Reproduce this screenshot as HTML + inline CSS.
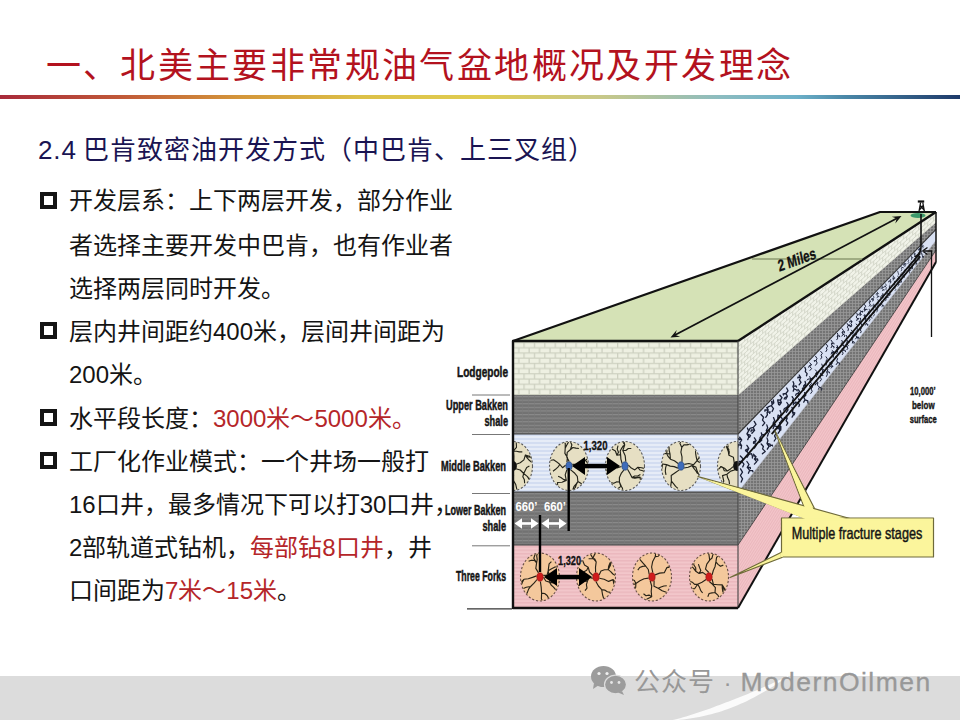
<!DOCTYPE html>
<html lang="zh-CN"><head><meta charset="utf-8">
<style>
html,body{margin:0;padding:0;}
body{width:960px;height:720px;overflow:hidden;position:relative;background:#fff;font-family:"Liberation Sans",sans-serif;}
.abs{position:absolute;}
#title{left:45.5px;top:39.5px;font-size:35px;line-height:52px;color:#b3121e;white-space:nowrap;letter-spacing:2.4px;}
#rule{left:0;top:95px;width:960px;height:4px;background:linear-gradient(90deg,#a82a3a 0%,#c05838 12.5%,#d4963a 25%,#dcc048 37.5%,#e0cc50 50%,#c8c888 62.5%,#8cbcc0 75%,#6cb0c8 83%,#4a88a8 88%,#1e3a6a 100%);}
#sub{left:38px;top:133px;font-size:26px;line-height:34px;color:#1a1452;white-space:nowrap;letter-spacing:0.85px;}
.ln{position:absolute;left:69px;font-size:24px;line-height:30px;color:#141414;white-space:nowrap;}
.bx{position:absolute;left:40px;width:8.5px;height:9px;border:4px solid #141414;}
.red{color:#b52629;}
#band{left:0;top:676px;width:960px;height:44px;background:#dcdcdc;}
#wm{left:634px;top:665px;font-size:24.5px;line-height:34px;color:#989898;white-space:nowrap;letter-spacing:2.2px}
svg text{font-family:"Liberation Sans",sans-serif;}
</style></head>
<body>
<div id="band" class="abs"></div>
<svg class="abs" style="left:0;top:0" width="960" height="720">
<polygon points="668.0,721.0 671.1,720.7 674.2,720.4 677.3,720.1 680.4,719.8 683.5,719.4 686.7,719.0 689.8,718.6 693.0,718.1 696.1,717.5 699.3,717.0 702.5,716.3 705.7,715.6 708.9,714.8 712.1,714.0 715.3,713.1 718.5,712.2 721.7,711.2 724.8,710.1 728.0,709.0 731.2,707.8 734.4,706.5 737.6,705.2 740.7,703.8 743.9,702.4 747.1,700.9 750.2,699.3 753.4,697.7 756.5,696.0 759.6,694.3 762.8,692.5 765.9,690.7 769.0,688.8 772.1,686.9 775.2,684.9 778.3,682.9 781.5,680.9 784.6,678.8 787.7,676.7 790.8,674.6 794.0,672.5 794.0,672.5 790.7,674.3 787.3,676.1 784.0,677.8 780.6,679.5 777.3,681.1 774.0,682.6 770.6,684.2 767.3,685.6 764.0,687.1 760.7,688.5 757.5,689.9 754.2,691.3 751.0,692.6 747.8,693.9 744.6,695.2 741.4,696.5 738.2,697.8 735.0,699.0 731.9,700.2 728.8,701.5 725.7,702.6 722.6,703.8 719.5,705.0 716.4,706.1 713.4,707.3 710.3,708.4 707.3,709.5 704.2,710.5 701.2,711.6 698.2,712.6 695.2,713.6 692.1,714.6 689.1,715.5 686.1,716.5 683.1,717.3 680.1,718.2 677.1,719.0 674.1,719.7 671.0,720.4 668.0,721.0" fill="#fbfbfb"/>
</svg>
<div id="title" class="abs">一、北美主要非常规油气盆地概况及开发理念</div>
<div id="rule" class="abs"></div>
<div id="sub" class="abs">2.4<span style="margin-left:-2px;letter-spacing:0.97px"> 巴肯致密油开发方式（中巴肯、上三叉组）</span></div>

<div class="bx" style="top:192px"></div>
<div class="ln" style="top:186px">开发层系：上下两层开发，部分作业</div>
<div class="ln" style="top:230.7px">者选择主要开发中巴肯，也有作业者</div>
<div class="ln" style="top:273.9px">选择两层同时开发。</div>
<div class="bx" style="top:322px"></div>
<div class="ln" style="top:317.1px">层内井间距约400米，层间井间距为</div>
<div class="ln" style="top:360.3px">200米。</div>
<div class="bx" style="top:408.5px"></div>
<div class="ln" style="top:403.5px">水平段长度：<span class="red">3000米～5000米。</span></div>
<div class="bx" style="top:451.5px"></div>
<div class="ln" style="top:446.7px">工厂化作业模式：一个井场一般打</div>
<div class="ln" style="top:489.9px">16口井，最多情况下可以打30口井，</div>
<div class="ln" style="top:533.1px">2部轨道式钻机，<span class="red">每部钻8口井</span>，井</div>
<div class="ln" style="top:576.3px">口间距为<span class="red">7米～15米</span>。</div>

<svg class="abs" style="left:0;top:0" width="960" height="720">
<defs>
<pattern id="brick" patternUnits="userSpaceOnUse" width="10.4" height="10.4" x="513" y="342">
 <rect width="10.4" height="10.4" fill="#eef0e2"/>
 <path d="M0 0.6H10.4M0 5.8H10.4M0.6 0V5.2M5.8 5.2V10.4" stroke="#cdd0c0" stroke-width="1.3" fill="none"/>
</pattern>
<pattern id="brickR" patternUnits="userSpaceOnUse" width="6" height="8" patternTransform="skewY(-41)">
 <rect width="6" height="8" fill="#f1f3e9"/>
 <path d="M0 0.5H6M0 4.5H6M0.5 0V4M3.5 4V8" stroke="#d6d9cc" stroke-width="1.2" fill="none"/>
</pattern>
<pattern id="grayF" patternUnits="userSpaceOnUse" width="6" height="3.6">
 <rect width="6" height="3.6" fill="#727272"/>
 <path d="M0 0.6H6" stroke="#8c8c8c" stroke-width="1.1"/>
 <path d="M0.5 0V3.6" stroke="#7a7a7a" stroke-width="0.6"/>
</pattern>
<pattern id="grayR" patternUnits="userSpaceOnUse" width="3" height="3">
 <rect width="3" height="3" fill="#747474"/>
 <path d="M0 0.5H3M0.5 0V3" stroke="#989898" stroke-width="0.8"/>
</pattern>
<pattern id="blueF" patternUnits="userSpaceOnUse" width="8" height="4">
 <rect width="8" height="4" fill="#d3ddf1"/>
 <path d="M0 1H8" stroke="#f4f6fc" stroke-width="1.2"/>
</pattern>
<pattern id="pinkF" patternUnits="userSpaceOnUse" width="8" height="3.5">
 <rect width="8" height="3.5" fill="#f2c6ca"/>
 <path d="M0 0.8H8" stroke="#e3aab2" stroke-width="0.8"/>
</pattern>
<pattern id="pinkR" patternUnits="userSpaceOnUse" width="4" height="4" patternTransform="skewY(-58)">
 <rect width="4" height="4" fill="#f2c4c8"/>
 <path d="M0 1H4" stroke="#e4aab2" stroke-width="0.8"/>
</pattern>
<clipPath id="frontClip"><rect x="513" y="341" width="225" height="267"/></clipPath>
</defs>
<polygon points="513.0,341.0 738.0,341.0 936.0,212.0 880.0,212.0" fill="#d5e2b6"/>
<polygon points="738.0,341.0 936.0,212.0 936.0,222.1 738.0,395.0" fill="url(#brickR)"/>
<polygon points="738.0,395.0 936.0,222.1 936.0,229.4 738.0,434.0" fill="url(#grayR)"/>
<polygon points="738.0,434.0 936.0,229.4 936.0,240.3 738.0,492.0" fill="#d9e1f3"/>
<polygon points="738.0,492.0 936.0,240.3 936.0,250.2 738.0,545.0" fill="url(#grayR)"/>
<polygon points="738.0,545.0 936.0,250.2 936.0,262.0 738.0,608.0" fill="url(#pinkR)"/>
<line x1="738.0" y1="395.0" x2="936.0" y2="222.1" stroke="#e8eadc" stroke-width="0.8"/>
<line x1="738.0" y1="434.0" x2="936.0" y2="229.4" stroke="#333" stroke-width="1.1"/>
<line x1="738.0" y1="492.0" x2="936.0" y2="240.3" stroke="#bfc6d8" stroke-width="0.6"/>
<line x1="738.0" y1="545.0" x2="936.0" y2="250.2" stroke="#3a3a3a" stroke-width="0.9"/>
<path d="M739.6 437.2 L741.7 440.0 L739.8 442.9 L741.6 445.7 L741.0 448.6 M741.6 445.7 l-3.2 -1.1 l-0.7 2.8 M741.7 440.0 l-3.5 -1.4 l0.9 1.1 M740.4 456.0 L743.0 458.7 L741.8 461.4 L743.9 464.2 L742.7 466.9 M741.8 461.4 l-2.6 -0.0 l-0.5 2.3 M740.5 468.9 L742.5 472.2 L740.4 475.5 L742.6 478.8 L741.2 482.1 M747.4 428.0 L748.6 430.9 L746.9 433.9 L748.9 436.8 L747.7 439.7 M746.9 433.9 l3.6 1.5 l-0.9 1.8 M746.9 445.4 L748.8 448.4 L747.1 451.4 L749.0 454.4 L747.0 457.4 M748.8 448.4 l-3.3 1.7 l0.9 1.5 M749.0 454.4 l2.5 -0.7 l0.9 2.7 M746.9 461.5 L749.0 464.5 L747.3 467.4 L749.7 470.3 L748.4 473.2 M747.3 467.4 l3.0 0.1 l0.1 1.0 M749.7 470.3 l2.9 0.4 l0.3 1.1 M754.2 421.4 L756.0 424.4 L753.3 427.4 L754.6 430.4 L751.9 433.3 M754.6 430.4 l-3.2 -0.5 l-0.4 1.6 M753.3 427.4 l-3.4 1.0 l-0.9 2.0 M754.4 437.9 L756.1 440.5 L754.7 443.0 L756.1 445.5 L754.4 448.1 M756.1 440.5 l-2.5 1.4 l-0.1 1.4 M753.4 454.1 L756.0 456.6 L754.4 459.1 L756.7 461.6 L754.4 464.1 M754.4 459.1 l3.1 -0.1 l0.3 1.5 M756.0 456.6 l-3.6 -1.1 l-0.0 2.5 M761.0 414.5 L763.6 417.3 L762.5 420.1 L764.8 422.8 L762.6 425.6 M761.3 432.8 L762.0 435.2 L760.0 437.6 L761.8 440.0 L759.6 442.3 M762.0 435.2 l2.5 -0.9 l-0.9 1.9 M761.8 440.0 l-2.4 -0.9 l0.7 1.8 M761.2 444.0 L763.4 446.5 L762.6 448.9 L765.2 451.4 L762.4 453.8 M766.7 407.5 L768.2 409.9 L767.1 412.4 L767.4 414.8 L765.7 417.3 M768.2 409.9 l-3.3 0.1 l-0.0 1.2 M767.1 412.4 l3.1 -0.5 l-0.5 1.5 M766.8 424.9 L767.7 427.7 L766.3 430.6 L768.4 433.4 L767.4 436.2 M766.3 430.6 l3.0 -0.3 l0.3 1.7 M767.0 437.9 L767.9 440.7 L767.0 443.5 L769.0 446.3 L767.3 449.2 M767.0 443.5 l3.1 0.6 l0.4 1.9 M769.0 446.3 l3.1 -1.3 l0.5 1.0 M773.3 399.9 L773.8 402.8 L771.3 405.7 L773.5 408.6 L772.1 411.5 M773.8 402.8 l-2.2 -1.3 l0.4 2.5 M771.3 405.7 l-3.3 1.1 l-0.4 1.2 M773.5 417.6 L774.7 420.4 L773.1 423.1 L774.0 425.9 L773.1 428.7 M774.0 425.9 l3.4 0.7 l0.4 2.0 M773.1 423.1 l2.3 1.4 l-0.6 1.0 M774.3 430.7 L776.1 433.3 L774.6 435.9 L775.9 438.5 L774.2 441.0 M779.9 395.3 L782.0 397.7 L780.4 400.1 L781.3 402.5 L779.5 405.0 M780.4 400.1 l-2.7 -0.3 l0.3 2.0 M781.3 402.5 l-3.1 -0.1 l0.4 2.3 M780.1 410.6 L781.2 413.5 L780.3 416.3 L782.6 419.2 L780.4 422.1 M780.3 416.3 l-2.2 1.3 l-0.4 2.3 M780.3 416.3 l-2.2 -1.3 l-0.4 2.3 M779.5 422.7 L780.2 425.3 L778.7 428.0 L779.9 430.7 L778.1 433.4 M778.7 428.0 l2.2 -1.4 l-0.1 1.6 M778.7 428.0 l2.2 0.6 l-0.2 1.6 M786.7 388.0 L788.0 390.8 L785.9 393.5 L787.4 396.3 L785.8 399.1 M785.9 393.5 l-2.8 0.5 l0.4 1.0 M787.4 396.3 l-2.6 1.4 l-0.6 1.3 M786.8 402.5 L788.4 404.9 L786.7 407.4 L788.0 409.8 L786.3 412.3 M786.7 407.4 l-2.3 1.2 l-0.7 1.6 M786.1 416.1 L787.2 418.3 L786.1 420.6 L787.8 422.9 L786.5 425.2 M787.2 418.3 l-2.7 -1.0 l-0.5 1.5 M793.1 381.6 L793.9 384.0 L792.9 386.4 L794.0 388.8 L793.2 391.2 M792.9 386.4 l3.0 -0.6 l0.6 1.3 M794.0 388.8 l2.8 1.2 l0.3 0.8 M792.1 396.7 L793.4 398.7 L792.5 400.7 L794.0 402.8 L793.3 404.8 M791.9 407.3 L792.9 409.7 L792.5 412.2 L793.5 414.7 L792.1 417.1 M792.5 412.2 l2.3 0.6 l-0.6 2.1 M799.2 375.0 L800.7 377.5 L799.4 379.9 L801.0 382.4 L799.1 384.8 M800.7 377.5 l-2.8 -0.3 l-0.0 0.9 M798.0 389.4 L799.6 391.3 L798.2 393.2 L798.8 395.1 L797.0 397.0 M798.2 393.2 l-2.1 0.9 l-0.4 1.3 M798.6 399.0 L800.0 400.9 L798.1 402.8 L799.5 404.7 L798.9 406.6 M798.1 402.8 l-2.4 -0.8 l-0.7 1.5 M804.9 367.3 L805.7 369.5 L805.3 371.6 L807.1 373.7 L806.5 375.8 M805.1 381.5 L805.7 383.7 L803.6 386.0 L804.4 388.2 L803.7 390.4 M804.4 388.2 l-1.9 0.0 l-0.0 1.0 M803.6 386.0 l2.1 -0.5 l-0.0 1.2 M804.6 392.6 L805.9 395.0 L803.8 397.4 L805.0 399.8 L803.7 402.1 M805.0 399.8 l2.8 1.0 l0.1 2.1" stroke="#1a2036" stroke-width="1.3" fill="none" stroke-linecap="round" stroke-linejoin="round"/>
<path d="M809.8 362.8 L811.3 364.7 L809.9 366.7 L811.6 368.6 L809.9 370.5 M811.3 364.7 l-2.0 0.9 l-0.6 1.7 M809.7 376.6 L810.7 378.9 L809.8 381.3 L811.7 383.6 L809.3 385.9 M810.7 378.9 l2.1 -1.1 l-0.6 1.6 M810.7 378.9 l-2.8 0.2 l-0.7 1.0 M810.8 384.8 L812.3 386.9 L811.2 389.1 L812.2 391.3 L810.8 393.4 M812.3 386.9 l-2.7 -0.9 l0.6 0.8 M815.5 356.2 L817.0 358.5 L816.0 360.7 L817.2 363.0 L815.5 365.3 M816.0 360.7 l-1.9 -0.1 l0.3 0.8 M815.4 369.9 L816.9 371.6 L815.9 373.4 L816.9 375.2 L816.4 376.9 M815.9 373.4 l2.2 -0.8 l-0.5 2.0 M816.2 380.7 L817.9 382.9 L817.2 385.0 L819.4 387.1 L818.4 389.3 M819.4 387.1 l2.7 1.3 l-0.7 1.9 M817.9 382.9 l-2.0 0.4 l-0.6 1.7 M820.7 351.4 L822.4 353.3 L821.0 355.2 L821.9 357.1 L820.7 359.0 M821.8 364.1 L822.5 366.3 L821.5 368.6 L822.7 370.8 L822.0 373.1 M821.5 368.6 l2.0 0.8 l-0.3 1.0 M820.3 373.2 L821.1 375.2 L820.1 377.2 L821.5 379.3 L820.1 381.3 M821.1 375.2 l1.9 -0.2 l-0.2 0.7 M826.5 344.4 L827.7 346.2 L826.4 348.0 L827.0 349.8 L825.9 351.6 M826.0 356.8 L827.4 358.9 L826.0 361.0 L826.6 363.1 L826.1 365.2 M826.3 367.6 L827.9 369.8 L826.8 372.0 L827.4 374.2 L826.5 376.4 M826.8 372.0 l2.4 -0.1 l0.4 1.2 M831.1 340.2 L832.4 342.1 L831.5 343.9 L832.2 345.8 L831.1 347.7 M831.5 343.9 l2.3 -1.0 l0.2 1.1 M832.2 345.8 l2.0 1.0 l-0.4 1.1 M832.1 350.5 L834.1 352.2 L833.0 353.9 L833.6 355.6 L833.2 357.4 M834.1 352.2 l-2.4 0.5 l-0.5 1.4 M834.1 352.2 l-2.4 -0.2 l0.6 1.2 M831.3 361.4 L832.0 363.1 L831.4 364.8 L832.7 366.4 L831.2 368.1 M832.0 363.1 l-2.3 -0.5 l0.2 0.8 M832.7 366.4 l-2.5 -0.3 l-0.5 1.1 M837.5 333.4 L837.9 334.9 L837.3 336.5 L837.8 338.1 L836.8 339.7 M837.3 336.5 l2.0 -1.0 l0.4 1.2 M837.1 345.5 L838.0 347.5 L836.7 349.5 L837.5 351.5 L836.7 353.5 M837.5 351.5 l-2.3 -0.5 l0.4 1.8 M838.0 347.5 l-1.6 -0.2 l0.4 0.7 M835.9 356.7 L837.6 358.7 L836.8 360.7 L837.5 362.7 L836.2 364.6 M837.5 362.7 l2.0 0.2 l0.2 1.5 M842.1 328.7 L843.4 330.6 L842.2 332.4 L843.1 334.3 L841.9 336.1 M842.2 332.4 l2.3 -0.9 l-0.2 1.5 M843.1 334.3 l1.9 1.1 l-0.5 1.1 M841.8 340.4 L842.5 342.0 L841.3 343.6 L841.9 345.2 L840.5 346.9 M841.9 345.2 l1.8 -0.3 l-0.1 1.1 M842.3 348.6 L843.2 350.1 L842.2 351.6 L843.2 353.1 L842.3 354.6 M843.2 350.1 l1.9 0.1 l0.3 1.5 M847.2 323.5 L848.3 325.3 L847.4 327.1 L848.5 328.9 L848.0 330.7 M848.3 325.3 l1.8 -0.3 l-0.0 1.7 M848.3 325.3 l1.7 0.2 l0.5 0.9 M846.3 335.4 L847.2 337.2 L846.1 339.0 L847.3 340.9 L846.8 342.7 M847.3 340.9 l1.7 0.9 l-0.3 0.9 M846.8 343.9 L848.2 345.3 L847.0 346.8 L847.9 348.2 L847.0 349.6 M847.0 346.8 l-2.2 -0.7 l-0.2 1.6 M850.8 320.0 L851.9 321.7 L850.9 323.4 L851.8 325.1 L851.1 326.8 M851.9 321.7 l-1.8 -0.7 l-0.4 1.0 M851.4 330.1 L852.4 331.6 L852.0 333.2 L853.3 334.7 L852.4 336.2 M852.0 333.2 l1.6 -1.0 l0.5 1.3 M852.0 333.2 l-1.7 -0.6 l0.2 0.8 M851.6 337.3 L852.7 338.7 L851.8 340.2 L852.8 341.6 L852.4 343.1 M852.8 341.6 l1.5 0.4 l-0.3 1.4 M856.8 313.2 L857.5 315.1 L856.2 316.9 L857.4 318.7 L856.8 320.6 M857.4 318.7 l1.4 -0.3 l-0.5 0.9 M856.3 324.0 L857.6 325.7 L856.8 327.4 L857.4 329.1 L856.9 330.7 M855.9 332.0 L856.7 333.7 L855.8 335.5 L856.8 337.2 L855.6 338.9 M856.8 337.2 l1.7 -0.1 l0.4 1.1 M856.8 337.2 l1.4 0.4 l-0.3 1.2 M860.0 310.4 L860.9 311.7 L859.9 313.0 L861.0 314.3 L860.1 315.6 M860.9 311.7 l1.6 -0.7 l-0.1 1.2 M861.0 314.3 l-2.0 -0.5 l-0.2 0.9 M860.4 318.2 L860.7 319.9 L859.3 321.6 L860.2 323.3 L859.2 325.0 M860.2 323.3 l1.4 0.5 l0.0 1.2 M859.3 321.6 l1.5 0.2 l-0.1 0.6 M860.1 327.3 L861.2 328.6 L860.3 330.0 L861.2 331.4 L860.7 332.7 M864.6 304.6 L865.7 306.3 L864.4 308.0 L865.4 309.7 L864.2 311.4 M865.4 309.7 l-1.3 -0.8 l0.2 1.1 M865.4 309.7 l1.5 -0.5 l0.2 0.5 M864.8 314.6 L865.3 315.9 L864.9 317.2 L865.8 318.5 L865.2 319.8 M865.8 318.5 l-1.7 -0.1 l-0.3 0.5 M865.3 315.9 l-1.5 -0.2 l0.5 0.6 M865.4 320.1 L866.3 321.4 L865.5 322.6 L866.5 323.9 L865.2 325.1 M866.5 323.9 l1.5 0.6 l-0.3 0.9" stroke="#1a2036" stroke-width="1.0" fill="none" stroke-linecap="round" stroke-linejoin="round"/>
<path d="M869.5 299.8 L870.4 301.4 L869.4 303.0 L870.1 304.6 L869.1 306.2 M870.4 301.4 l-1.5 0.5 l0.3 0.5 M870.1 304.6 l1.2 0.8 l-0.4 1.1 M869.2 309.1 L869.6 310.4 L868.4 311.7 L869.2 313.0 L867.8 314.4 M869.2 313.0 l-1.4 0.2 l-0.4 1.1 M869.2 313.0 l-1.2 -0.3 l-0.0 0.5 M869.8 315.1 L870.4 316.6 L869.2 318.2 L870.1 319.7 L869.2 321.2 M870.4 316.6 l1.6 0.9 l-0.0 0.7 M870.4 316.6 l-1.6 0.2 l-0.2 0.6 M873.1 295.8 L874.1 297.1 L873.1 298.5 L873.5 299.8 L872.8 301.2 M873.5 299.8 l-1.4 -0.7 l0.3 1.1 M873.1 298.5 l-1.6 0.2 l-0.1 0.9 M873.8 304.1 L874.3 305.5 L873.2 306.9 L873.7 308.3 L873.1 309.7 M874.3 305.5 l-1.4 -0.7 l0.1 1.3 M874.3 305.5 l1.7 0.9 l-0.3 1.1 M874.0 310.4 L874.5 311.8 L873.7 313.2 L874.4 314.6 L873.5 316.1 M874.5 311.8 l-1.7 0.6 l0.3 0.8 M877.3 292.1 L878.1 293.6 L876.8 295.0 L877.9 296.4 L877.1 297.8 M877.9 296.4 l1.1 -0.3 l-0.2 0.7 M878.1 293.6 l-1.7 -0.1 l-0.2 0.9 M877.8 299.6 L878.6 301.0 L877.9 302.5 L878.3 303.9 L877.5 305.4 M877.6 306.6 L877.9 308.0 L877.3 309.3 L877.6 310.7 L876.7 312.0 M877.3 309.3 l-1.4 -0.0 l0.2 0.8 M882.1 286.3 L883.0 287.5 L882.3 288.6 L883.2 289.7 L882.4 290.8 M883.2 289.7 l1.3 0.1 l-0.4 0.5 M883.0 287.5 l-1.7 0.3 l-0.3 1.0 M882.8 293.4 L883.1 294.6 L882.1 295.8 L883.2 297.0 L882.8 298.2 M882.1 295.8 l-1.5 0.8 l0.1 1.1 M883.1 294.6 l-1.1 0.3 l-0.2 0.5 M881.4 301.2 L881.9 302.6 L881.6 304.0 L882.4 305.4 L882.0 306.8 M881.6 304.0 l-1.5 0.6 l0.2 1.0 M882.4 305.4 l1.3 -0.1 l0.0 1.0 M885.5 283.8 L886.3 285.1 L885.5 286.5 L886.4 287.8 L885.8 289.1 M885.5 286.5 l-1.2 -0.3 l-0.3 1.1 M886.5 289.8 L887.4 291.0 L886.6 292.2 L887.3 293.3 L886.9 294.5 M887.3 293.3 l1.5 0.2 l-0.0 0.8 M886.1 296.6 L886.8 297.7 L885.6 298.8 L886.3 299.9 L885.3 300.9 M886.8 297.7 l1.6 -0.8 l-0.3 0.6 M890.0 278.9 L890.9 279.9 L889.8 281.0 L890.5 282.1 L890.2 283.2 M889.8 281.0 l1.1 0.1 l-0.0 1.0 M889.8 281.0 l-1.1 0.1 l-0.1 0.8 M889.8 285.1 L890.0 286.0 L889.2 287.0 L889.9 288.0 L888.8 289.0 M889.2 287.0 l1.0 0.1 l-0.1 1.0 M889.8 291.4 L890.5 292.5 L889.8 293.7 L890.3 294.8 L889.2 295.9 M889.8 293.7 l-1.0 0.7 l0.2 0.7 M893.1 275.7 L893.4 276.8 L893.1 277.9 L893.8 278.9 L892.8 280.0 M893.4 276.8 l1.4 0.7 l-0.2 1.1 M893.8 278.9 l-1.1 -0.4 l0.3 0.4 M894.1 281.0 L894.8 282.0 L894.1 283.0 L895.0 284.0 L894.0 285.0 M894.6 286.2 L895.2 287.3 L894.9 288.4 L895.8 289.5 L895.1 290.5 M897.4 271.0 L898.2 272.0 L897.9 273.0 L898.9 274.1 L898.2 275.1 M897.9 276.3 L898.5 277.5 L897.7 278.6 L898.6 279.8 L897.5 280.9 M898.5 277.5 l1.2 0.5 l-0.3 0.9 M897.8 281.8 L898.2 282.9 L898.0 284.0 L898.7 285.1 L897.9 286.2 M898.2 282.9 l1.2 -0.6 l0.2 0.4 M898.0 284.0 l1.4 -0.1 l-0.3 0.6 M901.2 266.6 L902.0 267.7 L901.3 268.8 L901.9 269.8 L901.1 270.9 M902.0 267.7 l1.2 -0.3 l0.1 0.5 M902.0 272.7 L902.4 273.6 L902.0 274.5 L902.5 275.3 L902.0 276.2 M902.0 274.5 l1.3 -0.6 l-0.3 0.6 M902.0 274.5 l-1.2 -0.6 l0.1 0.7 M901.0 278.8 L901.4 279.7 L901.0 280.6 L901.5 281.5 L901.0 282.4 M901.5 281.5 l-0.9 0.2 l0.2 0.6 M901.4 279.7 l-0.9 -0.1 l0.2 0.5 M904.3 263.2 L905.0 264.0 L904.7 264.9 L905.4 265.7 L904.8 266.6 M904.7 264.9 l-1.3 -0.4 l0.3 0.9 M905.0 264.0 l1.0 -0.6 l-0.1 0.9 M905.0 269.3 L905.4 270.2 L904.5 271.0 L905.0 271.9 L904.1 272.8 M905.4 270.2 l-1.2 0.4 l-0.1 0.7 M904.2 274.3 L904.4 275.1 L903.7 275.9 L904.4 276.8 L904.2 277.6 M903.7 275.9 l0.8 -0.4 l0.0 0.5 M908.1 259.7 L908.6 260.7 L908.2 261.6 L908.8 262.5 L907.9 263.5 M909.1 264.1 L909.6 265.1 L909.1 266.1 L909.7 267.1 L909.1 268.2 M909.7 267.1 l-1.1 -0.3 l0.0 0.6 M908.8 268.8 L909.5 269.9 L909.0 270.9 L909.7 271.9 L909.5 273.0 M909.5 269.9 l0.8 0.1 l-0.1 0.6 M911.2 256.0 L912.0 257.0 L911.5 258.0 L912.0 259.0 L911.2 260.0 M911.5 258.0 l1.1 -0.5 l0.1 0.4 M911.2 261.8 L911.7 262.7 L911.1 263.6 L911.2 264.5 L910.5 265.4 M911.7 262.7 l-1.1 0.2 l-0.2 0.6 M912.5 265.1 L912.8 266.0 L912.1 267.0 L912.7 268.0 L912.0 269.0 M912.7 268.0 l-1.2 0.5 l0.3 0.3 M912.1 267.0 l-1.0 -0.0 l-0.1 0.5 M914.5 252.9 L915.1 253.9 L914.7 254.9 L915.0 256.0 L914.2 257.0 M915.0 256.0 l0.9 0.3 l-0.3 0.4 M915.1 253.9 l-1.0 -0.1 l0.2 0.8 M914.7 258.3 L915.5 259.2 L914.6 260.0 L915.1 260.9 L914.5 261.8 M914.6 260.0 l1.0 0.0 l-0.1 0.4 M915.8 261.2 L916.4 262.1 L915.8 263.0 L916.6 263.9 L915.8 264.9 M915.8 263.0 l1.0 0.4 l0.2 0.3 M919.1 247.9 L920.0 248.7 L919.6 249.4 L920.2 250.2 L919.9 251.0 M920.0 248.7 l-1.1 0.2 l-0.1 0.9 M919.6 249.4 l-0.9 0.2 l0.3 0.8 M918.5 253.0 L919.0 253.9 L918.4 254.8 L918.8 255.7 L918.3 256.6 M918.8 255.7 l-0.9 0.6 l-0.1 0.9 M918.8 255.7 l0.8 0.5 l-0.0 0.7 M919.0 256.5 L919.4 257.5 L918.9 258.6 L919.5 259.6 L918.9 260.7 M918.9 258.6 l-1.1 0.5 l-0.2 0.6 M922.5 244.8 L922.9 245.6 L922.4 246.3 L923.1 247.1 L922.9 247.9 M922.4 246.3 l1.0 -0.4 l0.2 0.3 M921.3 250.7 L921.4 251.7 L921.0 252.6 L921.5 253.5 L921.3 254.5 M921.4 251.7 l-0.8 0.1 l0.2 0.7 M921.9 253.5 L922.7 254.4 L922.3 255.4 L922.6 256.3 L922.4 257.3 M922.6 256.3 l0.9 0.1 l-0.3 0.6 M922.6 256.3 l0.8 0.4 l-0.0 0.4" stroke="#1a2036" stroke-width="0.75" fill="none" stroke-linecap="round" stroke-linejoin="round"/>
<line x1="738.0" y1="465.9" x2="920.2" y2="253.1" stroke="#111" stroke-width="1.8"/>
<line x1="771.7" y1="434.2" x2="920.2" y2="256.3" stroke="#111" stroke-width="1.8"/>
<rect x="513" y="341" width="225" height="54" fill="url(#brick)"/>
<rect x="513" y="395" width="225" height="39" fill="url(#grayF)"/>
<rect x="513" y="434" width="225" height="58" fill="url(#blueF)"/>
<rect x="513" y="492" width="225" height="53" fill="url(#grayF)"/>
<rect x="513" y="545" width="225" height="63" fill="url(#pinkF)"/>
<line x1="513" y1="434" x2="738" y2="434" stroke="#3c3c3c" stroke-width="1"/>
<line x1="513" y1="492" x2="738" y2="492" stroke="#3c3c3c" stroke-width="1"/>
<line x1="513" y1="545" x2="738" y2="545" stroke="#3c3c3c" stroke-width="1"/>
<g clip-path="url(#frontClip)">
<ellipse cx="513" cy="466" rx="19.5" ry="24.5" fill="#e6dfc3" stroke="#5a5a5a" stroke-width="1.1" stroke-dasharray="2.2 1.8"/>
<path clip-path="url(#cm0)" d="M515.8 468.8 L520.2 470.0 L523.7 473.5 L527.5 476.6 L530.2 481.1 L531.9 486.3 M523.7 473.5 L522.8 476.8 L524.4 479.7 L524.6 483.2 M523.7 473.5 L525.2 470.4 L526.7 467.4 L529.4 465.9 M512.3 470.4 L513.5 475.2 L513.2 480.3 L515.7 484.4 L516.8 489.2 L516.5 494.3 M513.2 480.3 L511.3 483.0 L508.9 485.0 L506.8 487.5 M513.2 480.3 L510.3 480.9 L507.3 481.2 L504.9 483.2 M509.6 467.2 L507.0 472.0 L503.1 475.2 L498.5 474.5 L493.9 473.9 L489.9 471.1 M503.1 475.2 L501.8 472.0 L499.3 470.1 L497.9 467.0 M498.5 474.5 L496.7 477.3 L496.0 480.7 L494.5 483.7 M509.7 464.5 L506.5 460.3 L503.1 456.3 L498.9 458.6 L495.1 455.2 L490.8 457.4 M498.9 458.6 L496.6 456.3 L494.4 454.0 L494.2 450.5 M498.9 458.6 L496.8 461.1 L495.2 464.1 L493.2 466.6 M513.7 461.6 L513.8 456.3 L513.4 451.0 L516.5 447.3 L516.2 442.0 L519.6 438.8 M513.4 451.0 L516.4 451.3 L519.3 451.9 L522.3 451.9 M516.2 464.2 L520.2 462.7 L523.9 459.9 L525.4 455.0 L529.4 456.3 L533.5 454.9 M525.4 455.0 L527.8 457.0 L530.8 457.3 L533.0 459.7 M525.4 455.0 L527.1 457.9 L529.3 460.3 L531.7 462.4" stroke="#24241a" stroke-width="1.15" fill="none" stroke-linejoin="round"/>
<ellipse cx="513" cy="466" rx="3.9" ry="5" fill="#111"/>
<ellipse cx="569" cy="466" rx="19.5" ry="24.5" fill="#e6dfc3" stroke="#5a5a5a" stroke-width="1.1" stroke-dasharray="2.2 1.8"/>
<path clip-path="url(#cm1)" d="M565.6 465.2 L562.5 467.7 L559.9 464.5 L556.8 461.9 L553.6 459.8 L550.0 460.5 M559.9 464.5 L557.9 467.1 L555.5 469.3 L553.0 471.2 M566.9 462.4 L567.4 457.4 L564.9 453.4 L565.2 448.3 L565.3 443.3 L562.1 440.1 M565.2 448.3 L566.7 445.3 L568.3 442.4 L568.8 438.9 M569.2 461.5 L566.9 457.4 L567.2 452.4 L570.5 449.5 L571.9 444.9 L569.9 440.5 M570.5 449.5 L572.9 447.5 L575.9 448.1 L578.9 448.5 M572.3 464.4 L576.8 464.4 L580.8 462.0 L585.1 460.2 L589.3 458.1 L593.4 460.2 M585.1 460.2 L587.3 462.5 L589.3 465.2 L590.2 468.5 M570.7 469.9 L574.2 472.7 L577.3 476.3 L577.9 481.5 L581.6 483.8 L580.7 488.9 M577.9 481.5 L576.0 484.1 L573.9 486.7 L572.7 489.9 M577.9 481.5 L576.3 484.5 L575.2 487.7 L573.1 490.2 M566.9 469.6 L565.2 474.9 L566.3 480.4 L562.0 482.3 L557.5 482.5 L557.7 488.1 M566.3 480.4 L563.4 479.4 L560.9 477.5 L558.1 476.2" stroke="#24241a" stroke-width="1.15" fill="none" stroke-linejoin="round"/>
<ellipse cx="569" cy="466" rx="3.1" ry="4.2" fill="#3e6cba" stroke="#23406e" stroke-width="0.6"/>
<ellipse cx="625" cy="466" rx="19.5" ry="24.5" fill="#e6dfc3" stroke="#5a5a5a" stroke-width="1.1" stroke-dasharray="2.2 1.8"/>
<path clip-path="url(#cm2)" d="M627.5 469.2 L629.8 473.3 L632.0 477.6 L636.0 477.6 L640.0 477.1 L640.8 482.0 M632.0 477.6 L634.7 476.0 L637.7 476.0 L640.4 474.5 M632.0 477.6 L634.9 478.3 L637.8 477.6 L640.8 477.7 M623.8 470.2 L621.2 473.4 L619.4 477.4 L619.4 482.0 L621.2 486.1 L618.1 488.5 M619.4 482.0 L616.4 481.9 L613.7 483.3 L610.7 482.6 M619.4 482.0 L620.5 485.3 L622.4 488.0 L622.9 491.5 M621.5 466.5 L617.0 467.9 L613.0 465.1 L608.3 465.0 L603.7 465.2 L599.3 466.8 M608.3 465.0 L605.9 467.1 L604.4 470.1 L604.6 473.5 M608.3 465.0 L608.2 468.5 L606.0 470.9 L604.6 473.9 M622.1 463.5 L620.9 459.1 L620.6 454.6 L616.9 455.2 L615.4 451.0 L612.0 449.1 M616.9 455.2 L618.5 452.2 L617.2 449.1 L618.0 445.7 M620.6 454.6 L620.2 451.1 L621.8 448.1 L623.6 445.3 M625.8 461.6 L625.2 455.7 L622.8 450.5 L624.7 445.0 L621.9 440.1 L620.4 434.4 M624.7 445.0 L624.0 441.6 L621.4 439.7 L618.9 437.8 M622.8 450.5 L625.8 450.5 L628.3 448.5 L631.3 448.5 M628.4 465.2 L631.3 468.1 L634.8 469.9 L637.9 467.3 L641.6 467.7 L645.2 468.7 M637.9 467.3 L639.9 470.0 L642.8 470.7 L645.1 472.9" stroke="#24241a" stroke-width="1.15" fill="none" stroke-linejoin="round"/>
<ellipse cx="625" cy="466" rx="3.1" ry="4.2" fill="#3e6cba" stroke="#23406e" stroke-width="0.6"/>
<ellipse cx="681" cy="466" rx="19.5" ry="24.5" fill="#e6dfc3" stroke="#5a5a5a" stroke-width="1.1" stroke-dasharray="2.2 1.8"/>
<path clip-path="url(#cm3)" d="M684.1 468.0 L688.2 467.2 L692.0 465.6 L695.9 467.1 L697.4 471.8 L699.5 476.1 M692.0 465.6 L693.9 468.4 L695.9 471.0 L697.6 473.8 M679.3 469.9 L675.2 472.7 L671.2 475.5 L671.4 481.2 L670.6 486.9 L667.5 491.1 M671.4 481.2 L673.5 483.7 L675.6 486.3 L677.9 488.4 M677.9 468.1 L674.2 466.6 L670.2 466.1 L666.5 464.6 L662.6 464.0 L661.8 468.8 M666.5 464.6 L665.6 467.9 L665.3 471.4 L666.0 474.8 M666.5 464.6 L663.5 464.3 L660.5 464.1 L658.4 461.6 M678.1 463.5 L674.4 460.8 L670.4 459.2 L670.0 453.9 L665.8 453.7 L661.9 451.5 M670.0 453.9 L669.2 450.5 L669.0 447.1 L668.9 443.6 M670.4 459.2 L668.3 456.7 L666.7 453.7 L667.0 450.2 M682.0 461.7 L682.0 456.8 L680.9 452.2 L681.8 447.4 L679.9 443.2 L682.2 439.4 M681.8 447.4 L683.9 444.9 L686.9 444.9 L689.8 444.1 M684.3 464.4 L688.9 463.5 L693.6 464.7 L697.1 460.7 L699.9 456.0 L704.1 453.3 M697.1 460.7 L696.3 457.3 L695.7 453.9 L695.5 450.4 M697.1 460.7 L699.6 462.5 L702.5 463.4 L703.8 466.6" stroke="#24241a" stroke-width="1.15" fill="none" stroke-linejoin="round"/>
<ellipse cx="681" cy="466" rx="3.1" ry="4.2" fill="#3e6cba" stroke="#23406e" stroke-width="0.6"/>
<ellipse cx="737" cy="466" rx="19.5" ry="24.5" fill="#e6dfc3" stroke="#5a5a5a" stroke-width="1.1" stroke-dasharray="2.2 1.8"/>
<path clip-path="url(#cm4)" d="M735.2 469.8 L730.7 471.1 L726.9 474.2 L722.5 475.6 L723.8 481.1 L721.7 486.1 M726.9 474.2 L727.6 477.6 L729.1 480.7 L729.5 484.1 M733.5 466.4 L730.5 468.9 L727.3 471.0 L724.5 468.2 L721.1 466.5 L718.4 469.4 M727.3 471.0 L724.3 470.7 L723.0 467.6 L720.2 466.5 M734.3 463.1 L733.4 457.2 L728.9 455.3 L728.8 449.3 L725.4 445.1 L722.9 440.0 M728.9 455.3 L728.4 451.8 L727.2 448.6 L725.9 445.4 M728.9 455.3 L729.3 451.8 L727.6 448.9 L728.2 445.5 M737.9 461.7 L740.9 458.4 L741.9 453.5 L741.6 448.6 L742.6 443.8 L744.9 439.8 M741.9 453.5 L744.0 451.2 L747.0 451.7 L749.8 450.6 M741.9 453.5 L743.6 450.7 L746.6 450.6 L748.3 447.8 M740.5 466.2 L743.7 470.6 L748.2 469.2 L752.8 467.9 L757.5 468.4 L761.6 471.4 M752.8 467.9 L753.7 471.3 L756.5 472.2 L759.1 474.1 M752.8 467.9 L755.7 466.8 L757.8 464.3 L759.3 461.3 M739.5 469.2 L743.3 469.3 L747.1 470.0 L748.7 474.3 L748.3 479.0 L752.1 479.8 M748.7 474.3 L751.7 474.5 L754.5 475.8 L757.5 475.4 M748.7 474.3 L751.3 476.1 L753.9 474.4 L756.9 474.6" stroke="#24241a" stroke-width="1.15" fill="none" stroke-linejoin="round"/>
<ellipse cx="737" cy="466" rx="3.9" ry="5" fill="#111"/>
<ellipse cx="540" cy="577" rx="19.5" ry="24" fill="#f4c89c" stroke="#6a5048" stroke-width="1.1" stroke-dasharray="2.2 1.8"/>
<path clip-path="url(#ct0)" d="M540.4 581.5 L541.2 587.3 L541.6 593.1 L541.4 599.0 L544.3 603.6 L544.7 609.5 M541.6 593.1 L544.6 593.5 L547.1 595.5 L548.7 598.4 M537.1 579.5 L534.0 583.2 L530.6 586.5 L526.3 587.3 L522.2 589.0 L518.1 590.9 M530.6 586.5 L528.6 589.1 L527.4 592.4 L525.7 595.2 M536.6 575.9 L532.5 577.4 L528.3 578.7 L524.0 579.3 L520.6 582.5 L516.8 585.1 M524.0 579.3 L522.4 582.3 L521.2 585.4 L519.7 588.5 M538.5 572.9 L535.8 568.4 L536.6 562.8 L533.8 558.3 L535.5 553.1 L536.3 547.5 M536.6 562.8 L534.4 560.4 L531.4 560.2 L528.6 561.3 M536.6 562.8 L537.2 559.4 L536.7 555.9 L537.6 552.6 M543.3 575.3 L547.0 575.3 L548.2 570.8 L551.6 568.8 L555.0 567.0 L558.8 566.8 M548.2 570.8 L548.6 567.4 L549.1 563.9 L551.4 561.7 M548.2 570.8 L548.9 574.2 L550.8 576.9 L551.5 580.3 M543.5 577.2 L545.8 581.0 L549.5 582.1 L553.3 582.9 L556.0 579.5 L559.1 576.8 M549.5 582.1 L551.1 585.0 L553.5 587.1 L555.6 589.6 M549.5 582.1 L550.8 578.9 L552.4 575.9 L555.2 574.5" stroke="#2a2418" stroke-width="1.15" fill="none" stroke-linejoin="round"/>
<ellipse cx="540" cy="577" rx="3.2" ry="4.2" fill="#d01c1c" stroke="#801010" stroke-width="0.5"/>
<ellipse cx="596" cy="577" rx="19.5" ry="24" fill="#f4c89c" stroke="#6a5048" stroke-width="1.1" stroke-dasharray="2.2 1.8"/>
<path clip-path="url(#ct1)" d="M595.9 581.5 L598.4 586.0 L601.7 589.6 L602.6 595.0 L604.2 600.1 L601.8 604.7 M601.7 589.6 L604.7 590.1 L607.3 591.8 L610.3 592.4 M592.7 578.4 L589.1 577.3 L587.4 581.3 L583.7 581.2 L580.7 583.9 L577.5 586.0 M587.4 581.3 L586.4 584.6 L587.0 588.1 L585.0 590.7 M592.8 575.3 L589.5 572.0 L588.2 567.2 L584.5 564.9 L582.5 560.3 L578.9 557.9 M588.2 567.2 L586.7 570.2 L584.0 571.7 L581.2 572.9 M595.6 572.5 L595.5 567.1 L596.2 561.8 L592.9 558.2 L590.3 553.9 L592.0 549.0 M592.9 558.2 L594.3 555.1 L596.0 552.2 L598.1 549.7 M596.2 561.8 L594.6 558.8 L591.6 558.7 L588.6 558.7 M599.1 574.9 L601.0 571.0 L604.5 569.8 L608.2 569.6 L610.2 565.8 L611.4 561.5 M608.2 569.6 L610.7 571.6 L612.9 574.0 L615.6 575.6 M608.2 569.6 L608.7 566.2 L610.0 563.0 L611.8 560.3 M599.4 578.2 L604.1 579.3 L608.6 581.4 L613.1 579.6 L616.7 583.6 L621.3 582.2 M613.1 579.6 L613.6 583.0 L615.1 586.1 L617.3 588.4" stroke="#2a2418" stroke-width="1.15" fill="none" stroke-linejoin="round"/>
<ellipse cx="596" cy="577" rx="3.2" ry="4.2" fill="#d01c1c" stroke="#801010" stroke-width="0.5"/>
<ellipse cx="652" cy="577" rx="19.5" ry="24" fill="#f4c89c" stroke="#6a5048" stroke-width="1.1" stroke-dasharray="2.2 1.8"/>
<path clip-path="url(#ct2)" d="M654.1 580.6 L654.0 586.2 L658.2 588.2 L662.1 590.7 L666.3 592.3 L670.3 594.7 M658.2 588.2 L661.0 587.0 L663.9 586.0 L666.8 585.7 M650.2 580.9 L651.7 586.0 L651.2 591.4 L651.7 596.7 L647.6 598.7 L643.8 601.3 M651.7 596.7 L649.0 595.1 L646.0 595.7 L643.5 593.8 M648.6 578.1 L644.1 578.8 L639.9 580.8 L635.9 583.5 L631.7 585.5 L628.0 588.6 M635.9 583.5 L634.4 580.5 L631.5 579.4 L629.8 576.6 M635.9 583.5 L635.7 587.0 L634.7 590.3 L633.8 593.6 M649.2 574.3 L648.3 569.5 L645.6 566.0 L642.6 562.7 L639.8 559.3 L638.9 554.5 M645.6 566.0 L642.6 566.4 L639.7 567.5 L637.8 570.1 M652.8 572.6 L651.6 567.0 L652.7 561.4 L655.3 556.6 L655.9 550.8 L655.0 545.1 M655.3 556.6 L658.3 556.2 L660.6 554.0 L663.5 553.0 M655.1 574.9 L659.6 573.1 L664.4 572.6 L666.9 567.6 L671.5 565.9 L676.0 564.0 M666.9 567.6 L669.9 567.3 L672.3 569.5 L675.1 570.7" stroke="#2a2418" stroke-width="1.15" fill="none" stroke-linejoin="round"/>
<ellipse cx="652" cy="577" rx="3.2" ry="4.2" fill="#d01c1c" stroke="#801010" stroke-width="0.5"/>
<ellipse cx="709" cy="577" rx="19.5" ry="24" fill="#f4c89c" stroke="#6a5048" stroke-width="1.1" stroke-dasharray="2.2 1.8"/>
<path clip-path="url(#ct3)" d="M712.1 579.1 L713.4 584.3 L717.8 584.7 L722.2 584.9 L724.9 589.2 L728.1 592.9 M722.2 584.9 L723.5 588.0 L724.5 591.3 L723.1 594.4 M722.2 584.9 L722.3 588.4 L722.9 591.8 L724.6 594.6 M709.3 581.5 L712.5 584.3 L715.4 587.6 L715.0 592.5 L718.1 595.4 L720.0 599.8 M715.0 592.5 L712.0 592.9 L709.1 593.5 L707.8 596.7 M706.1 579.6 L702.0 582.2 L697.6 584.3 L694.6 588.7 L689.9 588.5 L685.3 589.4 M697.6 584.3 L694.6 584.4 L692.3 582.2 L689.4 581.1 M697.6 584.3 L699.4 587.1 L700.6 590.3 L702.6 593.0 M705.9 574.8 L702.7 572.4 L699.1 573.4 L695.8 571.3 L693.3 567.9 L690.1 565.4 M695.8 571.3 L695.7 567.8 L693.9 565.0 L693.4 561.6 M699.1 573.4 L700.8 570.5 L699.5 567.4 L698.4 564.1 M708.8 572.5 L705.5 569.2 L706.8 564.1 L709.7 560.2 L709.0 555.0 L707.6 549.9 M709.7 560.2 L712.0 558.0 L712.9 554.6 L715.2 552.4 M712.1 574.8 L713.3 570.5 L715.1 566.4 L715.9 561.9 L716.6 557.3 L719.8 555.1 M715.9 561.9 L718.0 564.4 L720.5 566.3 L723.3 565.1" stroke="#2a2418" stroke-width="1.15" fill="none" stroke-linejoin="round"/>
<ellipse cx="709" cy="577" rx="3.2" ry="4.2" fill="#d01c1c" stroke="#801010" stroke-width="0.5"/>
</g>
<defs><clipPath id="cm0"><ellipse cx="513" cy="466" rx="19" ry="24"/></clipPath><clipPath id="cm1"><ellipse cx="569" cy="466" rx="19" ry="24"/></clipPath><clipPath id="cm2"><ellipse cx="625" cy="466" rx="19" ry="24"/></clipPath><clipPath id="cm3"><ellipse cx="681" cy="466" rx="19" ry="24"/></clipPath><clipPath id="cm4"><ellipse cx="737" cy="466" rx="19" ry="24"/></clipPath><clipPath id="ct0"><ellipse cx="540" cy="577" rx="19" ry="23.5"/></clipPath><clipPath id="ct1"><ellipse cx="596" cy="577" rx="19" ry="23.5"/></clipPath><clipPath id="ct2"><ellipse cx="652" cy="577" rx="19" ry="23.5"/></clipPath><clipPath id="ct3"><ellipse cx="709" cy="577" rx="19" ry="23.5"/></clipPath></defs>
<line x1="568.7" y1="468" x2="568.7" y2="531" stroke="#000" stroke-width="2.4"/>
<line x1="540" y1="515" x2="540" y2="572" stroke="#000" stroke-width="2.4"/>
<g fill="#fff" stroke="none"><rect x="521.0" y="522.2" width="11.0" height="2.6"/><polygon points="514.5,523.5 522.0,518.3 522.0,528.7"/><polygon points="538.5,523.5 531.0,518.3 531.0,528.7"/></g>
<g fill="#fff" stroke="none"><rect x="548.0" y="522.2" width="12.0" height="2.6"/><polygon points="541.5,523.5 549.0,518.3 549.0,528.7"/><polygon points="566.5,523.5 559.0,518.3 559.0,528.7"/></g>
<text x="526.5" y="511" font-family="Liberation Sans" font-size="13" font-weight="bold" fill="#fff" text-anchor="middle" textLength="22" lengthAdjust="spacingAndGlyphs">660’</text>
<text x="555" y="511" font-family="Liberation Sans" font-size="13" font-weight="bold" fill="#fff" text-anchor="middle" textLength="22" lengthAdjust="spacingAndGlyphs">660’</text>
<g fill="#000" stroke="none"><rect x="584.0" y="463.8" width="24.0" height="4.5"/><polygon points="572.0,466.0 585.0,457.0 585.0,475.0"/><polygon points="620.0,466.0 607.0,457.0 607.0,475.0"/></g>
<g fill="#000" stroke="none"><rect x="556.0" y="574.8" width="24.0" height="4.5"/><polygon points="544.0,577.0 557.0,568.0 557.0,586.0"/><polygon points="592.0,577.0 579.0,568.0 579.0,586.0"/></g>
<text x="595.5" y="449.5" font-family="Liberation Sans" font-weight="bold" font-size="13.5" fill="#111" stroke="#111" stroke-width="0.35" text-anchor="middle" textLength="24" lengthAdjust="spacingAndGlyphs">1,320</text>
<text x="569.6" y="564.5" font-family="Liberation Sans" font-weight="bold" font-size="13.5" fill="#111" stroke="#111" stroke-width="0.35" text-anchor="middle" textLength="23" lengthAdjust="spacingAndGlyphs">1,320</text>
<g fill="none" stroke="#111" stroke-linejoin="round">
<polyline points="738,341 513,341 513,608 738,608" stroke-width="2.4"/>
<line x1="738" y1="341" x2="738" y2="608" stroke="#444" stroke-width="1.1"/>
<polyline points="513,341 880,212 936,212" stroke-width="2.2"/><polyline points="936,212 738,341" stroke-width="2.4"/>
<polyline points="936,212 936,262" stroke-width="1.5"/>
<polyline points="936,262 738,608" stroke-width="2"/>
</g>
<line x1="752" y1="259" x2="862" y2="259" stroke="#8c9a70" stroke-width="1.4"/>
<line x1="675" y1="335" x2="897" y2="218.3" stroke="#111" stroke-width="1.7"/>
<polygon points="670.5,337.6 680.2,336.8 675.3,335.1 676.7,330.0" fill="#111"/>
<polygon points="901.5,216.0 891.8,216.8 896.7,218.5 895.3,223.6" fill="#111"/>
<text x="0" y="0" transform="translate(798,265) rotate(-20) skewX(-8)" font-family="Liberation Sans" font-weight="bold" font-size="16" fill="#111" stroke="#111" stroke-width="0.3" text-anchor="middle" textLength="40" lengthAdjust="spacingAndGlyphs">2 Miles</text>
<ellipse cx="918" cy="215.5" rx="7.5" ry="2.4" fill="#3d9a6c"/>
<g stroke="#111" stroke-width="1.3" fill="none"><path d="M918.8 212.5 L920.6 202.5 M924.6 212.5 L922.8 202.5 M919.3 210 L923.6 205 M924.1 210 L919.8 205"/><path d="M917.8 201.5H924.2" stroke-width="2.2"/></g>
<path d="M921 214 V247 Q921 253 915 257" stroke="#111" stroke-width="1.6" fill="none"/>
<path d="M931.5 337 V251 H924" stroke="#111" stroke-width="1.3" fill="none"/><path d="M922.5 251 l5 -3.5 M922.5 251 l5 3.5" stroke="#111" stroke-width="1.3"/>
<g font-family="Liberation Sans" font-weight="bold" font-size="11" fill="#161616" stroke="#161616" stroke-width="0.4" text-anchor="middle"><text x="922.8" y="395.3" textLength="25.5" lengthAdjust="spacingAndGlyphs">10,000’</text><text x="923.3" y="408.8" textLength="22.6" lengthAdjust="spacingAndGlyphs">below</text><text x="923.2" y="423.4" textLength="27" lengthAdjust="spacingAndGlyphs">surface</text></g>
<g stroke="#777" stroke-width="1"><line x1="472" y1="395" x2="510" y2="395"/><line x1="472" y1="434.5" x2="510" y2="434.5"/><line x1="472" y1="493.5" x2="510" y2="493.5"/><line x1="472" y1="545.8" x2="510" y2="545.8"/></g>
<line x1="467" y1="608.8" x2="512" y2="608.8" stroke="#333" stroke-width="1.2"/>
<g font-family="Liberation Sans" font-weight="bold" font-size="15" fill="#141414" stroke="#141414" stroke-width="0.5" text-anchor="end"><text x="508" y="377" textLength="51" lengthAdjust="spacingAndGlyphs">Lodgepole</text><text x="508" y="409.5" textLength="62" lengthAdjust="spacingAndGlyphs">Upper Bakken</text><text x="508" y="425.5" textLength="23.5" lengthAdjust="spacingAndGlyphs">shale</text><text x="506" y="470.5" textLength="65" lengthAdjust="spacingAndGlyphs">Middle Bakken</text><text x="506" y="514.5" textLength="61" lengthAdjust="spacingAndGlyphs">Lower Bakken</text><text x="506" y="531" textLength="23.5" lengthAdjust="spacingAndGlyphs">shale</text><text x="506" y="580.8" textLength="50" lengthAdjust="spacingAndGlyphs">Three Forks</text></g>
<g fill="#fbf59c" stroke="#6e6a3a" stroke-width="1.2" stroke-linejoin="round"><polygon points="775,431 808.5,518.5 819.6,518.5"/><polygon points="698,476.5 806,518.5 850,518.5"/><polygon points="730,577.5 782,552 782,557.5"/><rect x="781.5" y="518" width="152" height="39"/></g>
<polygon points="776.5,434 809.5,519.6 818.6,519.6" fill="#fbf59c"/>
<polygon points="701,478 806.5,519.6 848,519.6" fill="#fbf59c"/>
<rect x="782.2" y="518.8" width="150.6" height="1.6" fill="#fbf59c"/>
<rect x="780.8" y="552.6" width="2" height="4.4" fill="#fbf59c"/>
<text x="857" y="538.5" font-family="Liberation Sans" font-size="16.2" fill="#141414" stroke="#141414" stroke-width="0.45" text-anchor="middle" textLength="130.5" lengthAdjust="spacingAndGlyphs">Multiple fracture stages</text>
</svg>

<svg class="abs" style="left:588px;top:664px" width="42" height="34" viewBox="0 0 42 34">
 <ellipse cx="15.5" cy="12.5" rx="12.5" ry="10.5" fill="#9c9c9c"/>
 <path d="M6 19 L5 25 L11 21 Z" fill="#9c9c9c"/>
 <ellipse cx="27.5" cy="20.5" rx="11" ry="9.3" fill="#9c9c9c" stroke="#dcdcdc" stroke-width="1.2"/>
 <path d="M34 27 L36 31 L30 28.5 Z" fill="#9c9c9c"/>
 <circle cx="11" cy="9.5" r="1.6" fill="#f0f0f0"/><circle cx="19" cy="9.5" r="1.6" fill="#f0f0f0"/>
 <circle cx="23.5" cy="18.5" r="1.4" fill="#e6e6e6"/><circle cx="31" cy="18.5" r="1.4" fill="#e6e6e6"/>
</svg>
<div id="wm" class="abs"><span style="font-size:26px;letter-spacing:1.2px">公众号</span><span style="letter-spacing:0;padding-left:1px"> · </span><span style="letter-spacing:1.45px;font-size:26.5px;position:relative;top:0px;padding-left:2px;-webkit-text-stroke:0.3px #989898">ModernOilmen</span></div>
</body></html>
